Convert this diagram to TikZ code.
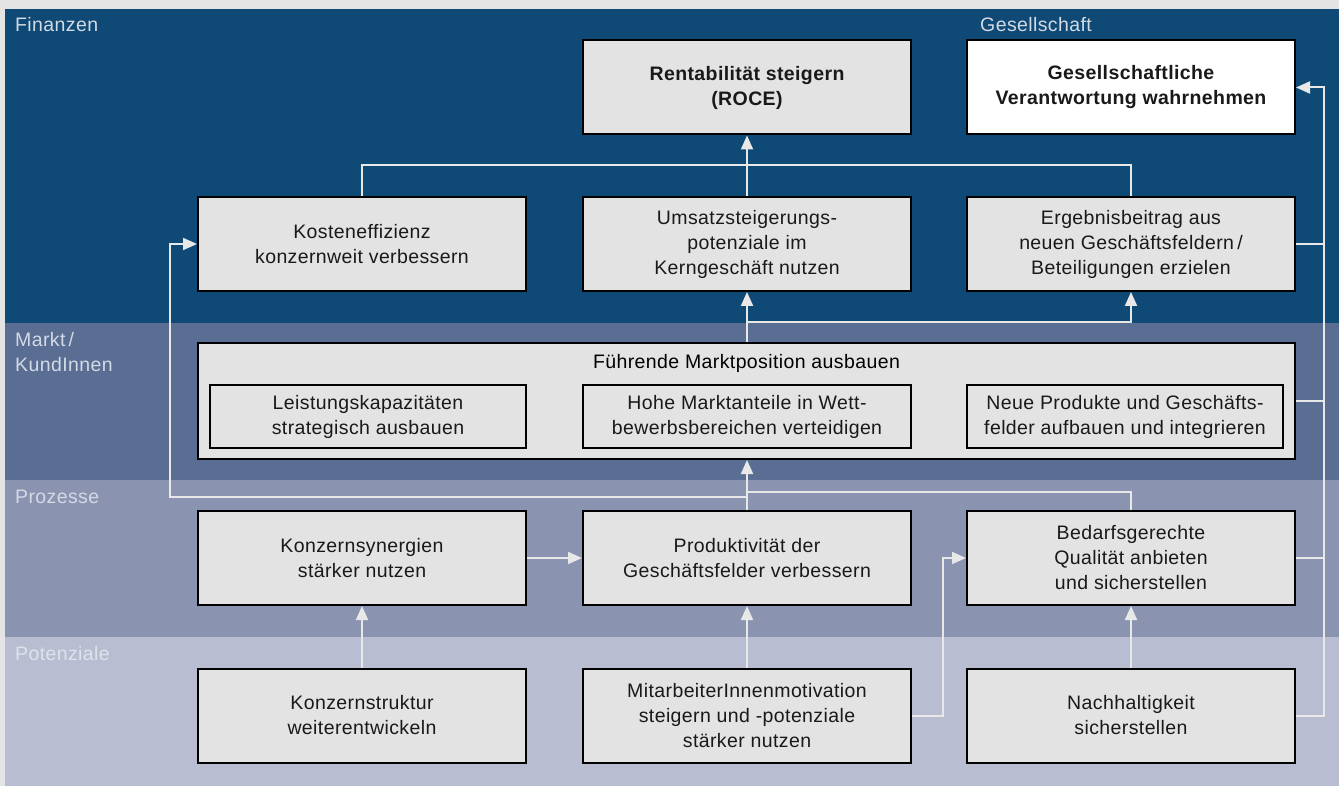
\documentclass[tikz,border=0pt]{standalone}
\usepackage{fontspec}
\setmainfont{Liberation Sans}[LetterSpace=2]
\usetikzlibrary{arrows.meta,positioning}
\definecolor{pagegray}{HTML}{E4E4E4}
\definecolor{finblue}{HTML}{0F4A76}
\definecolor{marktblue}{HTML}{5A6D93}
\definecolor{prozblue}{HTML}{8A94B1}
\definecolor{potblue}{HTML}{B8BDD1}
\definecolor{boxgray}{HTML}{E3E3E3}
\definecolor{linkgray}{HTML}{E8E8E8}
\definecolor{labelgray}{HTML}{D3DAE4}
\definecolor{potlabel}{HTML}{DFE2EA}

\begin{document}
\begin{tikzpicture}
[x=1pt, y=-1pt, >={Triangle[length=14pt,width=12pt]},
% STYLES
% The goal style is used for every strategic goal
goal/.style={rectangle, draw=black, line width=2pt, fill=boxgray, text=black!90, minimum width=328pt, minimum height=94pt, align=center, inner sep=0pt, font=\fontsize{19.5}{25}\selectfont},
topgoal/.style={goal, font=\fontsize{19.5}{25}\selectfont\bfseries},
subgoal/.style={goal, minimum width=316pt, minimum height=63pt},
% names of the perspectives
band/.style={anchor=base west, inner sep=0pt, text=labelgray, align=left, font=\fontsize{19.5}{25}\selectfont},
link/.style={draw=linkgray, line width=2pt}]

\useasboundingbox (0,0) rectangle (1339,786);

% Draw perspectives
\fill [pagegray] (0,0) rectangle (1339,786);
\fill [finblue] (5,9) rectangle (1339,323);
\fill [marktblue] (5,323) rectangle (1339,480);
\fill [prozblue] (5,480) rectangle (1339,637);
\fill [potblue] (5,637) rectangle (1339,786);

\node [band] (lblfin) at (15,32) {Finanzen};
\node [band] (lblges) at (980,32) {Gesellschaft};
\node [band] (lblmarkt) at (15,371) {Markt\,/\\KundInnen};
\node [band] (lblproz) at (15,503) {Prozesse};
\node [band, text=potlabel] (lblpot) at (15,660) {Potenziale};

% Draw goals
\node [topgoal] (rentab) at (747,87.5) {Rentabilität steigern\\(ROCE)};
\node [topgoal, fill=white, right=54pt of rentab] (gesell) {Gesellschaftliche\\Verantwortung wahrnehmen};

\node [goal] (kosten) at (362,244) {Kosteneffizienz\\konzernweit verbessern};
\node [goal, right=55pt of kosten] (umsatz) {Umsatzsteigerungs-\\potenziale im\\Kerngeschäft nutzen};
\node [goal, right=54pt of umsatz] (ergebnis) {Ergebnisbeitrag aus\\neuen Geschäftsfeldern\,/\\Beteiligungen erzielen};

\node [goal, minimum width=1097pt, minimum height=116pt] (fuehrend) at (746.5,401) {};
\node [anchor=base, inner sep=0pt, font=\fontsize{19.5}{25}\selectfont] (fuehrtitel) at (746.5,368) {Führende Marktposition ausbauen};
\node [subgoal] (leistung) at (368,416.5) {Leistungskapazitäten\\strategisch ausbauen};
\node [subgoal, minimum width=328pt] (marktant) at (747,416.5) {Hohe Marktanteile in Wett-\\bewerbsbereichen verteidigen};
\node [subgoal] (neuprod) at (1125,416.5) {Neue Produkte und Geschäfts-\\felder aufbauen und integrieren};

\node [goal] (synergie) at (362,558) {Konzernsynergien\\stärker nutzen};
\node [goal, right=55pt of synergie] (produkt) {Produktivität der\\Geschäftsfelder verbessern};
\node [goal, right=54pt of produkt] (bedarf) {Bedarfsgerechte\\Qualität anbieten\\und sicherstellen};

\node [goal] (struktur) at (362,715.5) {Konzernstruktur\\weiterentwickeln};
\node [goal, right=55pt of struktur] (motiv) {MitarbeiterInnenmotivation\\steigern und -potenziale\\stärker nutzen};
\node [goal, right=54pt of motiv] (nachhalt) {Nachhaltigkeit\\sicherstellen};

% Draw links
\coordinate (topjoin) at (747,165);
\coordinate (marktjoin) at (747,322);
\coordinate (prozleft) at (747,497);
\coordinate (prozright) at (747,492);
\coordinate (kostenin) at (170,244);
\coordinate (bus) at (1324,87.5);
\coordinate (motivbend) at (943,558);

\draw [link] (kosten.north) |- (topjoin) -| (ergebnis.north);
\draw [link, ->] (umsatz.north) -- (rentab.south);
\draw [link, ->] (umsatz.south |- fuehrend.north) -- (umsatz.south);
\draw [link, ->] (marktjoin) -| (ergebnis.south);
\draw [link, ->] (produkt.north) -- (produkt.north |- fuehrend.south);
\draw [link, ->] (prozleft) -| (kostenin) -- (kosten.west);
\draw [link] (bedarf.north) |- (prozright);
\draw [link, ->] (nachhalt.east) -| (bus) -- (gesell.east);
\draw [link] (ergebnis.east) -- (ergebnis.east -| bus);
\draw [link] (fuehrend.east) -- (fuehrend.east -| bus);
\draw [link] (bedarf.east) -- (bedarf.east -| bus);
\draw [link, ->] (struktur.north) -- (synergie.south);
\draw [link, ->] (motiv.north) -- (produkt.south);
\draw [link, ->] (nachhalt.north) -- (bedarf.south);
\draw [link, ->] (synergie.east) -- (produkt.west);
\draw [link, ->] (motiv.east) -| (motivbend) -- (bedarf.west);

\end{tikzpicture}
\end{document}
